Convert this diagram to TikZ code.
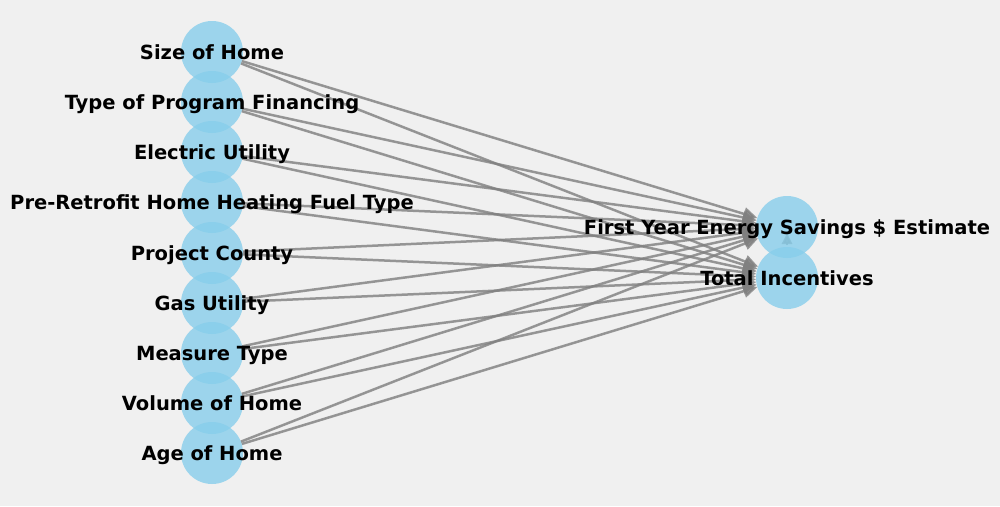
\documentclass[tikz,border=0pt]{standalone}
\usepackage{fontspec}
\setmainfont{DejaVu Sans}
\usetikzlibrary{arrows.meta}
\definecolor{bg}{HTML}{F0F0F0}
\definecolor{skyb}{HTML}{87CEEB}
\begin{document}
\begin{tikzpicture}[x=1pt,y=-1pt,
  spot/.style={circle, minimum size=62pt, inner sep=0pt, outer sep=0pt},
  blob/.style={fill=skyb, fill opacity=0.8},
  lbl/.style={font=\bfseries\fontsize{19.5}{20}\selectfont, text=black, inner sep=0pt, text height=0.74em, text depth=0.2em, yshift=-5pt},
  ed/.style={draw=gray, draw opacity=0.8, fill=gray, fill opacity=0.8, line width=2.5pt, -{Triangle[length=14pt,width=13pt]}}]
\fill[bg] (0,0) rectangle (1000,506);
\useasboundingbox (0,0) rectangle (1000,506);
% positions
\node[spot] (a1) at (212,52) {};
\node[spot] (a2) at (212,102) {};
\node[spot] (a3) at (212,152) {};
\node[spot] (a4) at (212,202) {};
\node[spot] (a5) at (212,253) {};
\node[spot] (a6) at (212,303) {};
\node[spot] (a7) at (212,353) {};
\node[spot] (a8) at (212,403) {};
\node[spot] (a9) at (212,453) {};
\node[spot] (f) at (787,227) {};
\node[spot] (t) at (787,278) {};
\coordinate (ub) at (787,245);
\coordinate (ut) at (787,233);
% edges
\foreach \i in {1,...,9} {
  \draw[ed] (a\i) -- (f);
  \draw[ed] (a\i) -- (t);
}
\draw[ed, -{Triangle[length=11pt,width=10pt]}] (ub) -- (ut);
% node discs
\foreach \n in {a1,a2,a3,a4,a5,a6,a7,a8,a9,f,t} {
  \fill[blob] (\n.center) circle (31);
}
% labels
\node[lbl] (l1) at (a1) {Size of Home};
\node[lbl] (l2) at (a2) {Type of Program Financing};
\node[lbl] (l3) at (a3) {Electric Utility};
\node[lbl] (l4) at (a4) {Pre-Retrofit Home Heating Fuel Type};
\node[lbl] (l5) at (a5) {Project County};
\node[lbl] (l6) at (a6) {Gas Utility};
\node[lbl] (l7) at (a7) {Measure Type};
\node[lbl] (l8) at (a8) {Volume of Home};
\node[lbl] (l9) at (a9) {Age of Home};
\node[lbl] (lf) at (f) {First Year Energy Savings \$ Estimate};
\node[lbl] (lt) at (t) {Total Incentives};
\end{tikzpicture}
\end{document}
